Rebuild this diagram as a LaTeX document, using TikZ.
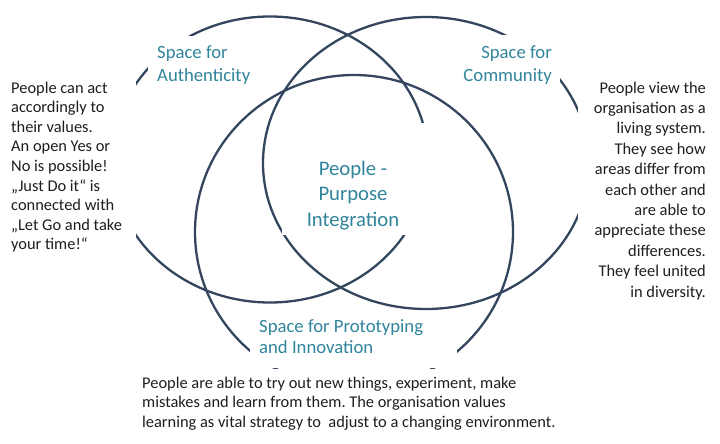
\documentclass[tikz,border=0pt]{standalone}
\usepackage{fontspec}
\setmainfont{Carlito}
\frenchspacing
\definecolor{ringcol}{HTML}{34465E}
\definecolor{labelcol}{HTML}{31859C}
\definecolor{bodycol}{HTML}{1E1E1E}
\begin{document}
\begin{tikzpicture}[x=1pt,y=-1pt,
  ring/.style={draw=ringcol, line width=2.3pt},
  mask/.style={fill=white},
  bodytext/.style={inner sep=0pt, text=bodycol},
  spacelabel/.style={inner sep=0pt, text=labelcol, font=\fontsize{18.7}{22.5}\selectfont}]
\useasboundingbox (0,0) rectangle (720,444);
\fill[white] (0,0) rectangle (720,444);
% the three spaces
\draw[ring] (270,159.5) ellipse [x radius=158pt, y radius=143pt];
\draw[ring] (426,163) ellipse [x radius=163pt, y radius=146pt];
\draw[ring] (354,232) ellipse [x radius=159pt, y radius=157pt];
% white text backgrounds
\fill[mask] (0,60) rectangle (136,270);
\fill[mask] (578,60) rectangle (720,320);
\fill[mask] (148,36) rectangle (262,91);
\fill[mask] (473,35) rectangle (560,91);
\fill[mask] (282,123) rectangle (432,235);
\fill[mask] (250,312) rectangle (457,368);
\fill[mask] (135,369) rectangle (585,444);
% labels
\node[spacelabel, anchor=base west] (auth) at (157,59)
  {\begin{tabular}[t]{@{}l@{}}Space for\\Authenticity\end{tabular}};
\node[spacelabel, anchor=base east] (comm) at (552,59)
  {\begin{tabular}[t]{@{}r@{}}Space for\\Community\end{tabular}};
\node[spacelabel, anchor=base west, font=\fontsize{18.7}{21}\selectfont] (proto) at (259,332)
  {\begin{tabular}[t]{@{}l@{}}Space for Prototyping\\and Innovation\end{tabular}};
\node[spacelabel, anchor=base, font=\fontsize{20.7}{25.5}\selectfont] (core) at (353,175)
  {\begin{tabular}[t]{@{}c@{}}People -\\Purpose\\Integration\end{tabular}};
% descriptions
\node[bodytext, anchor=base west, font=\fontsize{16.4}{19.6}\selectfont] (acttext) at (11,93)
  {\begin{tabular}[t]{@{}l@{}}People can act\\accordingly to\\their values.\\An open Yes or\\No is possible!\\„Just Do it“ is\\connected with\\„Let Go and take\\your time!“\end{tabular}};
\node[bodytext, anchor=base east, font=\fontsize{16.4}{20.4}\selectfont] (systext) at (706,93)
  {\begin{tabular}[t]{@{}r@{}}People view the\\organisation as a\\living system.\\They see how\\areas differ from\\each other and\\are able to\\appreciate these\\differences.\\They feel united\\in diversity.\end{tabular}};
\node[bodytext, anchor=base west, font=\fontsize{16.4}{19.7}\selectfont] (learntext) at (142,388)
  {\begin{tabular}[t]{@{}l@{}}People are able to try out new things, experiment, make\\mistakes and learn from them. The organisation values\\learning as vital strategy to\ \ adjust to a changing environment.\end{tabular}};
\end{tikzpicture}
\end{document}
